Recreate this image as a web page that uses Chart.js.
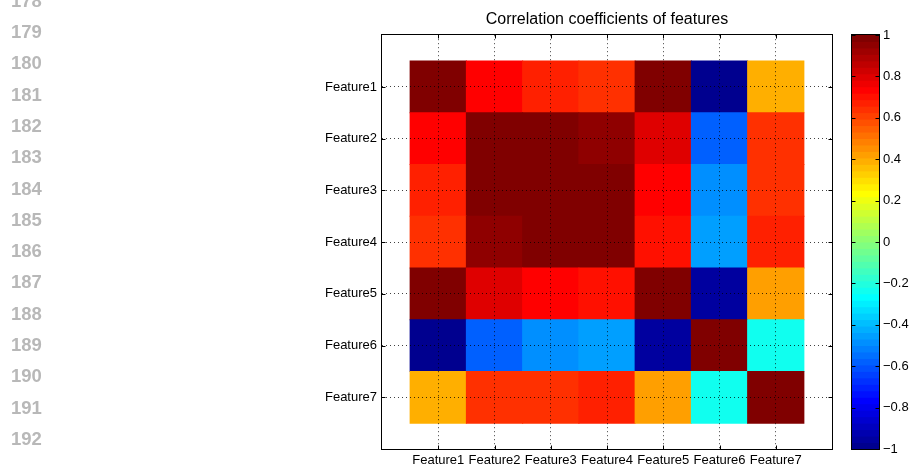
<!DOCTYPE html>
<html>
<head>
<meta charset="utf-8">
<script src="https://cdn.jsdelivr.net/npm/chart.js@4.4.1/dist/chart.umd.min.js"></script>
<style>
  html, body { margin: 0; padding: 0; background: #fff; }
  #wrap { position: relative; width: 911px; height: 465px; overflow: hidden; }
  .ln { position: absolute; left: 11px; font: bold 18.5px "Liberation Sans", Arial, sans-serif; color: #b8b8b8; line-height: 18px; }
  #main { position: absolute; left: 0; top: 0; }
  #cbar { position: absolute; left: 840px; top: 0; }
</style>
</head>
<body>
<div id="wrap">
  <canvas id="main" width="911" height="465"></canvas>
  <canvas id="cbar" width="71" height="465"></canvas>
</div>
<script>
// Editor gutter line numbers shown beside the figure
const lineNumbers = [178, 179, 180, 181, 182, 183, 184, 185, 186, 187, 188, 189, 190, 191, 192];

// Feature names (both axes)
const features = ['Feature1', 'Feature2', 'Feature3', 'Feature4', 'Feature5', 'Feature6', 'Feature7'];

// Correlation matrix, one row per feature
const corrFeature1 = [1.00, 0.73, 0.67, 0.64, 0.98, -0.98, 0.39];
const corrFeature2 = [0.73, 1.00, 0.98, 0.95, 0.80, -0.58, 0.64];
const corrFeature3 = [0.67, 0.98, 1.00, 0.98, 0.73, -0.48, 0.64];
const corrFeature4 = [0.64, 0.95, 0.98, 1.00, 0.70, -0.45, 0.67];
const corrFeature5 = [0.98, 0.80, 0.73, 0.70, 1.00, -0.95, 0.42];
const corrFeature6 = [-0.98, -0.58, -0.48, -0.45, -0.95, 1.00, -0.23];
const corrFeature7 = [0.39, 0.64, 0.64, 0.67, 0.42, -0.23, 1.00];

// Colour bar tick values
const colorbarTicks = [1, 0.8, 0.6, 0.4, 0.2, 0, -0.2, -0.4, -0.6, -0.8, -1];

const corrRows = [corrFeature1, corrFeature2, corrFeature3, corrFeature4, corrFeature5, corrFeature6, corrFeature7];

const FONT = '"Liberation Sans", Arial, Helvetica, sans-serif';
const CMIN = -1, CMAX = 1, LEVELS = 64;

// 64-level jet colormap, index 1..64
function jetRGB(i) {
  let r, g, b;
  if (i <= 24) r = 0; else if (i <= 40) r = (i - 24) / 16; else if (i <= 56) r = 1; else r = (72 - i) / 16;
  if (i <= 8) g = 0; else if (i <= 24) g = (i - 8) / 16; else if (i <= 39) g = 1; else if (i <= 55) g = (56 - i) / 16; else g = 0;
  if (i <= 8) b = (i + 8) / 16; else if (i <= 23) b = 1; else if (i <= 39) b = (40 - i) / 16; else b = 0;
  const c = v => Math.round(v * 255);
  return `rgb(${c(r)},${c(g)},${c(b)})`;
}
function levelOf(v) {
  const idx = Math.floor((v - CMIN) / (CMAX - CMIN) * LEVELS) + 1;
  return Math.min(LEVELS, Math.max(1, idx));
}
const fmt = v => {
  const r = Math.round(v * 10) / 10;
  return r < 0 ? '\u2212' + String(-r) : String(r);
};

// gutter numbers
const wrap = document.getElementById('wrap');
lineNumbers.forEach((n, k) => {
  const d = document.createElement('div');
  d.className = 'ln';
  d.textContent = String(n);
  d.style.top = (0.7 + k * 31.3 - 9) + 'px';
  wrap.appendChild(d);
});

// frame plus inward tick marks for an axes box
function framePlugin(tickLen, withX) {
  return {
    id: 'frame',
    afterDraw(chart) {
      const { ctx, chartArea: a, scales } = chart;
      ctx.save();
      ctx.strokeStyle = '#000';
      ctx.lineWidth = 1;
      const L = Math.round(a.left) - 0.5, R = Math.round(a.right) + 0.5;
      const T = Math.round(a.top) - 0.5, B = Math.round(a.bottom) + 0.5;
      ctx.beginPath();
      scales.y.ticks.forEach(t => {
        const p = Math.round(scales.y.getPixelForValue(t.value)) + 0.5;
        ctx.moveTo(L, p); ctx.lineTo(L + tickLen, p);
        ctx.moveTo(R, p); ctx.lineTo(R - tickLen, p);
      });
      if (withX) {
        scales.x.ticks.forEach(t => {
          const p = Math.round(scales.x.getPixelForValue(t.value)) + 0.5;
          ctx.moveTo(p, B); ctx.lineTo(p, B - tickLen);
          ctx.moveTo(p, T); ctx.lineTo(p, T + tickLen);
        });
      }
      ctx.stroke();
      ctx.strokeRect(L, T, R - L, B - T);
      ctx.restore();
    }
  };
}

// matrix cells as floating bars
const cells = [];
corrRows.forEach((row, r) => row.forEach((v, c) => {
  cells.push({ x: c + 1, y: [r + 0.5, r + 1.5], v });
}));

const tickFont = { family: FONT, size: 13 };
const gridOpts = { color: 'rgba(0,0,0,0.75)', lineWidth: 1, drawTicks: false, offset: false, z: 1 };

new Chart(document.getElementById('main'), {
  type: 'bar',
  data: {
    datasets: [{
      data: cells,
      backgroundColor: ctx => jetRGB(levelOf(ctx.raw.v)),
      borderWidth: 0,
      inflateAmount: 0.5,
      barPercentage: 1,
      categoryPercentage: 1,
      grouped: false
    }]
  },
  options: {
    responsive: false,
    animation: false,
    events: [],
    layout: { padding: { left: 0, right: 79, top: 0, bottom: 0 } },
    plugins: {
      legend: { display: false },
      tooltip: { enabled: false },
      title: {
        display: true,
        fullSize: false,
        text: 'Correlation coefficients of features',
        color: '#000',
        font: { family: FONT, size: 16, weight: 'normal' },
        padding: { top: 10, bottom: 6 }
      }
    },
    scales: {
      x: {
        type: 'linear',
        min: 0, max: 8,
        offset: false,
        afterBuildTicks: s => { s.ticks = features.map((f, i) => ({ value: i + 1 })); },
        afterFit: s => { s.height = 16; },
        ticks: { callback: v => features[v - 1], font: tickFont, color: '#000', padding: 4, autoSkip: false, maxRotation: 0 },
        grid: gridOpts,
        border: { display: false, dash: [1, 3] }
      },
      y: {
        type: 'linear',
        min: 0, max: 8,
        reverse: true,
        offset: false,
        afterBuildTicks: s => { s.ticks = features.map((f, i) => ({ value: i + 1 })); },
        afterFit: s => { s.width = 382; },
        ticks: { callback: v => features[v - 1], font: tickFont, color: '#000', padding: 5, autoSkip: false },
        grid: gridOpts,
        border: { display: false, dash: [1, 3] }
      }
    }
  },
  plugins: [framePlugin(4, true)]
});

// colour bar: one band per colormap level
const bands = [];
for (let i = 1; i <= LEVELS; i++) {
  const lo = CMIN + (i - 1) * (CMAX - CMIN) / LEVELS;
  const hi = CMIN + i * (CMAX - CMIN) / LEVELS;
  bands.push({ x: '', y: [lo, hi], level: i });
}

new Chart(document.getElementById('cbar'), {
  type: 'bar',
  data: {
    labels: [''],
    datasets: [{
      data: bands,
      backgroundColor: ctx => jetRGB(ctx.raw.level),
      borderWidth: 0,
      inflateAmount: 0.5,
      barPercentage: 1,
      categoryPercentage: 1,
      grouped: false
    }]
  },
  options: {
    responsive: false,
    animation: false,
    events: [],
    layout: { padding: { left: 12, right: 0, top: 35, bottom: 16 } },
    plugins: { legend: { display: false }, tooltip: { enabled: false } },
    scales: {
      x: { type: 'category', display: false },
      y: {
        type: 'linear',
        position: 'right',
        min: CMIN, max: CMAX,
        afterBuildTicks: s => { s.ticks = colorbarTicks.map(v => ({ value: v })); },
        afterFit: s => { s.width = 32; },
        ticks: { callback: v => fmt(v), font: tickFont, color: '#000', padding: 4, autoSkip: false },
        grid: { display: false, drawTicks: false },
        border: { display: false }
      }
    }
  },
  plugins: [framePlugin(4, false)]
});
</script>
</body>
</html>
